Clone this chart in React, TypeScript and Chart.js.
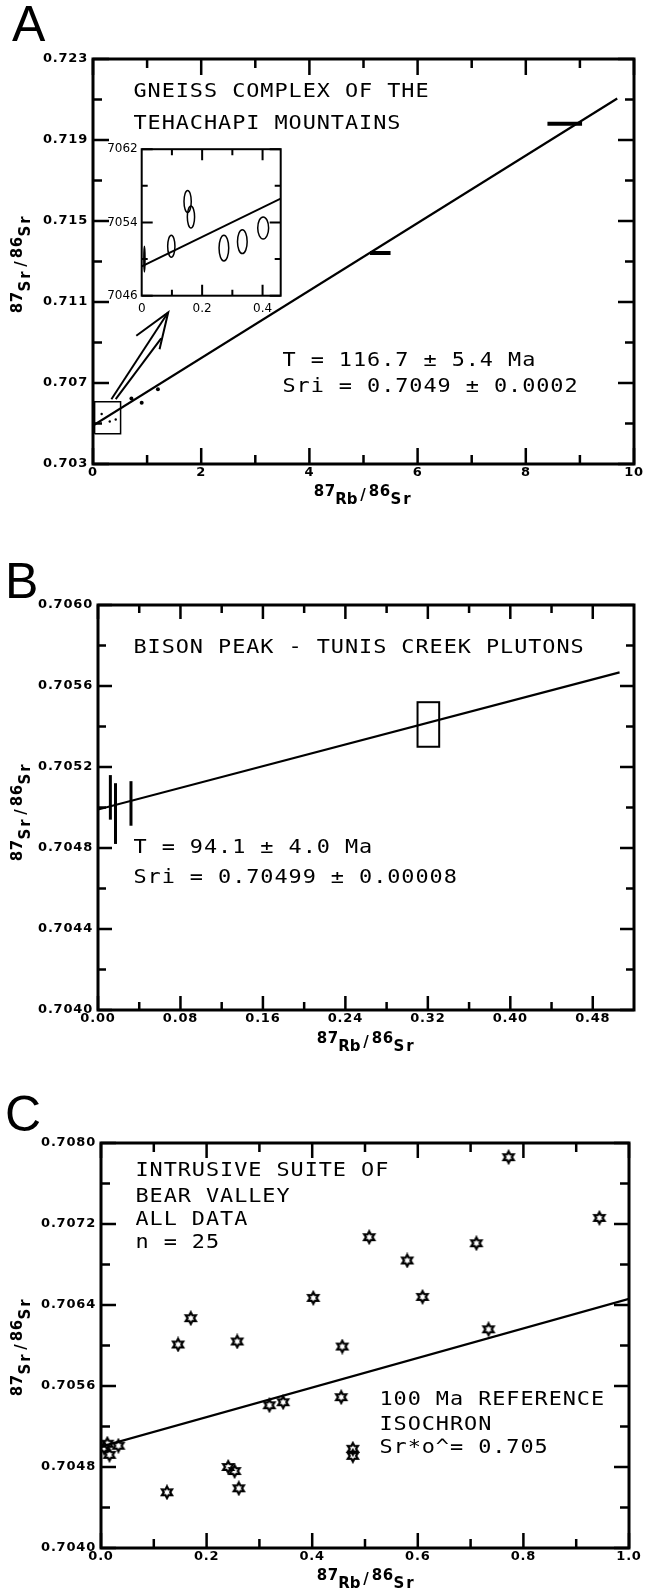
import React, { useEffect, useRef } from "react";
import { Chart, registerables } from "chart.js";
Chart.register(...registerables);

// ================= Panel A data =================
const aXTicks = [0, 2, 4, 6, 8, 10];
const aXMinor = [1, 3, 5, 7, 9];
const aYTicks = [0.703, 0.707, 0.711, 0.715, 0.719, 0.723];
const aYMinor = [0.705, 0.709, 0.713, 0.717, 0.721];
const aIsoX = [0, 9.69];
const aIsoY = [0.7049, 0.72105];
const aBarX = [8.72, 5.31];
const aBarY = [0.7198, 0.71342];
const aBarEx = [0.32, 0.19];
const aDotX = [0.71, 0.9, 1.2];
const aDotY = [0.70623, 0.70603, 0.70669];
const aSpeckX = [0.16, 0.31, 0.42];
const aSpeckY = [0.70547, 0.7051, 0.7052];
const aBoxX = [0.03, 0.51];
const aBoxY = [0.70449, 0.70608];
const aShaftX = [0.34, 1.39];
const aShaftY = [0.7062, 0.71049];
const aShaft2X = [0.42, 1.26];
const aShaft2Y = [0.7062, 0.7092];
const aHeadX = [0.8, 1.39, 1.23];
const aHeadY = [0.70933, 0.71049, 0.70867];
const aLabel = ["GNEISS COMPLEX OF THE", "TEHACHAPI MOUNTAINS"];
const aStats = ["T = 116.7 ± 5.4 Ma", "Sri = 0.7049 ± 0.0002"];

// ================= Inset data =================
const inXTicks = [0, 0.2, 0.4];
const inXMinor = [0.1, 0.3];
const inYTicks = [0.7046, 0.7054, 0.7062];
const inYMinor = [0.705, 0.7058];
const inX = [0.009, 0.098, 0.152, 0.163, 0.272, 0.333, 0.402];
const inY = [0.705, 0.70514, 0.70563, 0.70546, 0.70512, 0.70519, 0.70534];
const inEx = [0.002, 0.012, 0.012, 0.012, 0.016, 0.016, 0.018];
const inEy = [0.00014, 0.00012, 0.00012, 0.00012, 0.00014, 0.00013, 0.00012];
const inIsoX = [0, 0.46];
const inIsoY = [0.70492, 0.70566];

// ================= Panel B data =================
const bXTicks = [0, 0.08, 0.16, 0.24, 0.32, 0.4, 0.48];
const bXMinor = [0.04, 0.12, 0.2, 0.28, 0.36, 0.44];
const bYTicks = [0.704, 0.7044, 0.7048, 0.7052, 0.7056, 0.706];
const bYMinor = [0.7042, 0.7046, 0.705, 0.7054, 0.7058];
const bIsoX = [0, 0.506];
const bIsoY = [0.70499, 0.705667];
const bBarX = [0.012, 0.017, 0.032];
const bBarY = [0.70505, 0.70497, 0.70502];
const bBarEy = [0.00011, 0.00015, 0.00011];
const bRectX = [0.3205];
const bRectY = [0.70541];
const bRectEx = [0.0105];
const bRectEy = [0.00011];
const bLabel = ["BISON PEAK - TUNIS CREEK PLUTONS"];
const bStats = ["T = 94.1 ± 4.0 Ma", "Sri = 0.70499 ± 0.00008"];

// ================= Panel C data =================
const cXTicks = [0, 0.2, 0.4, 0.6, 0.8, 1.0];
const cXMinor = [0.1, 0.3, 0.5, 0.7, 0.9];
const cYTicks = [0.704, 0.7048, 0.7056, 0.7064, 0.7072, 0.708];
const cYMinor = [0.7044, 0.7052, 0.706, 0.7068, 0.7076];
const cX = [0.772, 0.944, 0.508, 0.711, 0.58, 0.609, 0.402, 0.17, 0.734, 0.146, 0.258, 0.457, 0.455, 0.319, 0.345, 0.012, 0.033, 0.016, 0.006, 0.477, 0.477, 0.241, 0.253, 0.261, 0.125];
const cY = [0.70786, 0.70726, 0.70707, 0.70701, 0.70684, 0.70648, 0.70647, 0.70627, 0.70616, 0.70601, 0.70604, 0.70599, 0.70549, 0.70541, 0.70544, 0.70503, 0.70501, 0.70492, 0.70499, 0.70498, 0.70491, 0.7048, 0.70476, 0.70459, 0.70455];
const cRefX = [0, 1.0];
const cRefY = [0.705, 0.70646];
const cLabel = ["INTRUSIVE SUITE OF", "BEAR VALLEY", "ALL DATA", "n = 25"];
const cRefLabel = ["100 Ma REFERENCE", "ISOCHRON", "Sr*o^= 0.705"];

// axis title pieces (text, vertical offset)
const titleX = ["87", "Rb", "/", "86", "Sr"];
const titleY = ["87", "Sr", "/", "86", "Sr"];
const titleShift = [-4, 4, 0, -4, 4];

// ================= helpers =================
type Pt = { x: number; y: number };
const pts = (xs: number[], ys: number[]): Pt[] => xs.map((x, i) => ({ x, y: ys[i] }));
const lineDs = (data: Pt[], w: number) => ({
  data, showLine: true, borderColor: "#000", borderWidth: w, pointRadius: 0, fill: false, tension: 0,
});

const TICK_FONT = { family: "'DejaVu Sans', sans-serif", size: 13, weight: "bold" as const };

function monoText(ctx: CanvasRenderingContext2D, s: string, x: number, y: number, pitch: number, font: string) {
  ctx.font = font;
  ctx.textAlign = "center";
  ctx.textBaseline = "middle";
  ctx.fillStyle = "#000";
  [...s].forEach((ch, i) => {
    ctx.save();
    ctx.translate(x + pitch * (i + 0.5), y);
    ctx.scale(1.15, 1);
    ctx.fillText(ch, 0, 0);
    ctx.restore();
  });
}

function axisTitle(ctx: CanvasRenderingContext2D, parts: string[], cx: number, cy: number, rot: boolean) {
  ctx.save();
  ctx.translate(cx, cy);
  if (rot) ctx.rotate(-Math.PI / 2);
  const pitch = 11;
  const n = parts.join("").length;
  let k = 0;
  ctx.font = "bold 15px 'DejaVu Sans'";
  ctx.textAlign = "center";
  ctx.textBaseline = "middle";
  ctx.fillStyle = "#000";
  parts.forEach((p, i) => {
    for (const ch of p) {
      ctx.fillText(ch, -n * pitch / 2 + pitch * (k + 0.5), titleShift[i]);
      k++;
    }
  });
  ctx.restore();
}

type Geo = { canvasTop: number; h: number; L: number; R: number; T: number; B: number };

type Decor = {
  geo: Geo;
  xMajor: number[]; xMinor: number[]; yMajor: number[]; yMinor: number[];
  major: number; minor: number; frame: number;
  texts?: { s: string; x: number; y: number }[];
  letter?: { s: string; x: number; y: number };
  xTitle?: { x: number; y: number };
  yTitle?: { x: number; y: number };
  ellipses?: { x: number[]; y: number[]; ex: number[]; ey: number[] };
  rects?: { x: number[]; y: number[]; ex: number[]; ey: number[] };
  spacing?: string;
};

function makeDecor(d: Decor) {
  const setSp = (chart: any) => {
    try { (chart.ctx as any).letterSpacing = d.spacing ?? "0.8px"; } catch (e) {}
  };
  return {
    id: "decor",
    beforeUpdate: setSp,
    beforeLayout: setSp,
    beforeDraw: (chart: any) => { setSp(chart); },
    afterDatasetsDraw(chart: any) {
      const { ctx, scales: { x, y } } = chart;
      ctx.save();
      ctx.strokeStyle = "#000";
      if (d.ellipses) {
        ctx.lineWidth = 1.5;
        const e = d.ellipses;
        e.x.forEach((xv, i) => {
          const px = x.getPixelForValue(xv), py = y.getPixelForValue(e.y[i]);
          const rx = Math.abs(x.getPixelForValue(xv + e.ex[i]) - px);
          const ry = Math.abs(y.getPixelForValue(e.y[i] + e.ey[i]) - py);
          ctx.beginPath();
          ctx.ellipse(px, py, Math.max(rx, 0.6), ry, 0, 0, Math.PI * 2);
          ctx.stroke();
        });
      }
      if (d.rects) {
        ctx.lineWidth = 2;
        const r = d.rects;
        r.x.forEach((xv, i) => {
          const x0 = x.getPixelForValue(xv - r.ex[i]), x1 = x.getPixelForValue(xv + r.ex[i]);
          const y0 = y.getPixelForValue(r.y[i] + r.ey[i]), y1 = y.getPixelForValue(r.y[i] - r.ey[i]);
          ctx.strokeRect(x0, y0, x1 - x0, y1 - y0);
        });
      }
      ctx.restore();
    },
    afterDraw(chart: any) {
      const { ctx, chartArea: a, scales: { x, y } } = chart;
      ctx.save();
      try { (ctx as any).letterSpacing = "0px"; } catch (e) {}
      ctx.strokeStyle = "#000";
      ctx.lineWidth = d.frame;
      ctx.lineCap = "butt";
      ctx.strokeRect(a.left, a.top, a.right - a.left, a.bottom - a.top);
      const vt = (vals: number[], len: number) => {
        vals.forEach((v) => {
          const px = x.getPixelForValue(v);
          ctx.beginPath();
          ctx.moveTo(px, a.bottom); ctx.lineTo(px, a.bottom - len);
          ctx.moveTo(px, a.top); ctx.lineTo(px, a.top + len);
          ctx.stroke();
        });
      };
      const ht = (vals: number[], len: number) => {
        vals.forEach((v) => {
          const py = y.getPixelForValue(v);
          ctx.beginPath();
          ctx.moveTo(a.left, py); ctx.lineTo(a.left + len, py);
          ctx.moveTo(a.right, py); ctx.lineTo(a.right - len, py);
          ctx.stroke();
        });
      };
      ctx.lineWidth = Math.max(2, d.frame - 0.5);
      vt(d.xMajor, d.major); vt(d.xMinor, d.minor);
      ht(d.yMajor, d.major); ht(d.yMinor, d.minor);
      const off = d.geo.canvasTop;
      (d.texts || []).forEach((t) => monoText(ctx, t.s, t.x, t.y - off, 14.1, "19px 'DejaVu Sans Mono'"));
      if (d.letter) {
        ctx.font = "50px 'Liberation Sans'";
        ctx.textAlign = "left";
        ctx.textBaseline = "alphabetic";
        ctx.fillStyle = "#000";
        ctx.fillText(d.letter.s, d.letter.x, d.letter.y - off);
      }
      if (d.xTitle) axisTitle(ctx, titleX, d.xTitle.x, d.xTitle.y - off, false);
      if (d.yTitle) axisTitle(ctx, titleY, d.yTitle.x, d.yTitle.y - off, true);
      ctx.restore();
    },
  };
}

function makeOptions(g: Geo, xr: [number, number], yr: [number, number], xt: number[], yt: number[],
  xf: (v: number) => string, yf: (v: number) => string, font: any, yPad: number, xPad: number) {
  return {
    responsive: false,
    maintainAspectRatio: false,
    animation: false,
    events: [],
    layout: { autoPadding: false, padding: { top: g.T - g.canvasTop, right: 645 - g.R, left: 0, bottom: 0 } },
    plugins: { legend: { display: false }, tooltip: { enabled: false } },
    scales: {
      x: {
        type: "linear", min: xr[0], max: xr[1],
        grid: { display: false, drawTicks: false }, border: { display: false },
        afterFit: (s: any) => { s.height = g.canvasTop + g.h - g.B; },
        afterBuildTicks: (s: any) => { s.ticks = xt.map((v) => ({ value: v })); },
        ticks: { callback: (v: any) => xf(Number(v)), font, color: "#000", padding: xPad, maxRotation: 0, minRotation: 0, autoSkip: false },
      },
      y: {
        type: "linear", min: yr[0], max: yr[1],
        grid: { display: false, drawTicks: false }, border: { display: false },
        afterFit: (s: any) => { s.width = g.L; },
        afterBuildTicks: (s: any) => { s.ticks = yt.map((v) => ({ value: v })); },
        ticks: { callback: (v: any) => yf(Number(v)), font, color: "#000", padding: yPad, autoSkip: false },
      },
    },
  };
}

function ChartCanvas({ make, left, top, w, h, z }: { make: () => any; left: number; top: number; w: number; h: number; z?: number }) {
  const ref = useRef<HTMLCanvasElement>(null);
  useEffect(() => {
    const chart = new Chart(ref.current as HTMLCanvasElement, make());
    return () => chart.destroy();
  }, []);
  return (
    <canvas ref={ref} width={w} height={h}
      style={{ position: "absolute", left, top, width: w, height: h, zIndex: z || 1, display: "block" }} />
  );
}

function starImage(): HTMLCanvasElement {
  const s = 16;
  const c = document.createElement("canvas");
  c.width = s; c.height = s;
  const g = c.getContext("2d") as CanvasRenderingContext2D;
  g.strokeStyle = "#000";
  g.lineWidth = 2.2;
  g.lineJoin = "miter";
  g.beginPath();
  for (let i = 0; i < 12; i++) {
    const ang = -Math.PI / 2 + (i * Math.PI) / 6;
    const rr = i % 2 === 0 ? 5.8 : 3.2;
    const px = s / 2 + rr * Math.cos(ang), py = s / 2 + rr * Math.sin(ang);
    if (i === 0) g.moveTo(px, py); else g.lineTo(px, py);
  }
  g.closePath();
  g.stroke();
  return c;
}

// ================= geometry (layout) =================
const gA: Geo = { canvasTop: 0, h: 525, L: 93, R: 634, T: 59, B: 464 };
const gB: Geo = { canvasTop: 525, h: 540, L: 98, R: 634, T: 605, B: 1010 };
const gC: Geo = { canvasTop: 1065, h: 526, L: 101, R: 629, T: 1143, B: 1548 };
const gIn = { left: 100, top: 138, w: 190, h: 185 };

function configA() {
  const opts: any = makeOptions(gA, [0, 10], [0.703, 0.723], aXTicks, aYTicks,
    (v) => v.toFixed(0), (v) => v.toFixed(3), TICK_FONT, 5, 1);
  const datasets: any[] = [
    lineDs(pts(aIsoX, aIsoY), 2.2),
    ...aBarX.map((bx, i) => lineDs(pts([bx - aBarEx[i], bx + aBarEx[i]], [aBarY[i], aBarY[i]]), 4)),
    { data: pts(aDotX, aDotY), showLine: false, pointRadius: 2, backgroundColor: "#000", borderColor: "#000", borderWidth: 0 },
    { data: pts(aSpeckX, aSpeckY), showLine: false, pointRadius: 1.2, backgroundColor: "#000", borderColor: "#000", borderWidth: 0 },
    lineDs(pts([aBoxX[0], aBoxX[1], aBoxX[1], aBoxX[0], aBoxX[0]], [aBoxY[0], aBoxY[0], aBoxY[1], aBoxY[1], aBoxY[0]]), 1.5),
    lineDs(pts(aShaftX, aShaftY), 2),
    lineDs(pts(aShaft2X, aShaft2Y), 2),
    lineDs(pts(aHeadX, aHeadY), 2),
  ];
  const decor = makeDecor({
    geo: gA, xMajor: aXTicks, xMinor: aXMinor, yMajor: aYTicks, yMinor: aYMinor,
    major: 16, minor: 9, frame: 3,
    texts: [
      { s: aLabel[0], x: 133, y: 92 }, { s: aLabel[1], x: 133, y: 124 },
      { s: aStats[0], x: 282, y: 361 }, { s: aStats[1], x: 282, y: 387 },
    ],
    letter: { s: "A", x: 12, y: 41 },
    xTitle: { x: 363, y: 496 },
    yTitle: { x: 22, y: 264 },
  });
  return { type: "scatter", data: { datasets }, options: opts, plugins: [decor] };
}

function configInset() {
  const g: Geo = { canvasTop: gIn.top, h: gIn.h, L: 141.7 - gIn.left, R: 645 - (gIn.left + gIn.w - 280.7), T: 145, B: 295.7 };
  const opts: any = makeOptions(g, [0, 0.46], [0.7046, 0.7062], inXTicks, inYTicks,
    (v) => (v === 0 ? "0" : v.toFixed(1)), (v) => (v * 10000).toFixed(0),
    { family: "'DejaVu Sans', sans-serif", size: 12 }, 4, 6);
  opts.layout.padding.right = gIn.left + gIn.w - 280.7;
  const datasets: any[] = [lineDs(pts(inIsoX, inIsoY), 2)];
  const decor = makeDecor({
    geo: g, xMajor: [0.2, 0.4], xMinor: inXMinor, yMajor: inYTicks, yMinor: inYMinor,
    major: 11, minor: 6, frame: 2, spacing: "0px",
    ellipses: { x: inX, y: inY, ex: inEx, ey: inEy },
  });
  return { type: "scatter", data: { datasets }, options: opts, plugins: [decor] };
}

function configB() {
  const opts: any = makeOptions(gB, [0, 0.52], [0.704, 0.706], bXTicks, bYTicks,
    (v) => v.toFixed(2), (v) => v.toFixed(4), TICK_FONT, 5, 1);
  const datasets: any[] = [
    lineDs(pts(bIsoX, bIsoY), 2.2),
    ...bBarX.map((bx, i) => lineDs(pts([bx, bx], [bBarY[i] - bBarEy[i], bBarY[i] + bBarEy[i]]), 3)),
  ];
  const decor = makeDecor({
    geo: gB, xMajor: bXTicks, xMinor: bXMinor, yMajor: bYTicks, yMinor: bYMinor,
    major: 14, minor: 8, frame: 3,
    texts: [
      { s: bLabel[0], x: 133, y: 648 },
      { s: bStats[0], x: 133, y: 848 }, { s: bStats[1], x: 133, y: 878 },
    ],
    rects: { x: bRectX, y: bRectY, ex: bRectEx, ey: bRectEy },
    letter: { s: "B", x: 5, y: 598 },
    xTitle: { x: 366, y: 1043 },
    yTitle: { x: 22, y: 812 },
  });
  return { type: "scatter", data: { datasets }, options: opts, plugins: [decor] };
}

function configC() {
  const opts: any = makeOptions(gC, [0, 1.0], [0.704, 0.708], cXTicks, cYTicks,
    (v) => v.toFixed(1), (v) => v.toFixed(4), TICK_FONT, 5, 1);
  const star = starImage();
  const datasets: any[] = [
    lineDs(pts(cRefX, cRefY), 2.2),
    { data: pts(cX, cY), showLine: false, pointStyle: star, pointRadius: 6, borderColor: "#000", backgroundColor: "#000" },
  ];
  const decor = makeDecor({
    geo: gC, xMajor: cXTicks, xMinor: cXMinor, yMajor: cYTicks, yMinor: cYMinor,
    major: 15, minor: 9, frame: 3,
    texts: [
      { s: cLabel[0], x: 135, y: 1171 }, { s: cLabel[1], x: 135, y: 1197 },
      { s: cLabel[2], x: 135, y: 1220 }, { s: cLabel[3], x: 135, y: 1243 },
      { s: cRefLabel[0], x: 379, y: 1400 }, { s: cRefLabel[1], x: 379, y: 1425 },
      { s: cRefLabel[2], x: 379, y: 1448 },
    ],
    letter: { s: "C", x: 5, y: 1131 },
    xTitle: { x: 366, y: 1580 },
    yTitle: { x: 22, y: 1347 },
  });
  return { type: "scatter", data: { datasets }, options: opts, plugins: [decor] };
}

export default function App() {
  return (
    <div style={{ position: "absolute", left: 0, top: 0, width: 645, height: 1591, background: "#fff", overflow: "hidden" }}>
      <ChartCanvas make={configA} left={0} top={gA.canvasTop} w={645} h={gA.h} />
      <ChartCanvas make={configInset} left={gIn.left} top={gIn.top} w={gIn.w} h={gIn.h} z={2} />
      <ChartCanvas make={configB} left={0} top={gB.canvasTop} w={645} h={gB.h} />
      <ChartCanvas make={configC} left={0} top={gC.canvasTop} w={645} h={gC.h} />
    </div>
  );
}
